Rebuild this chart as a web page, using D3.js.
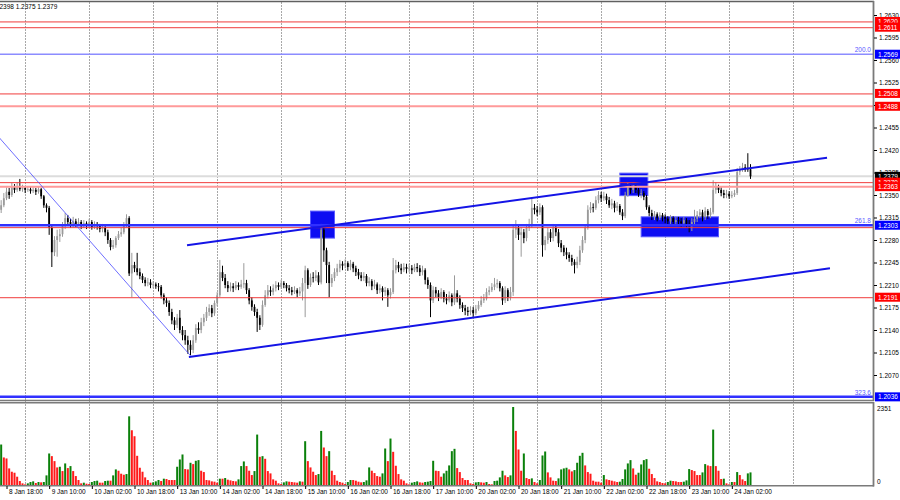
<!DOCTYPE html>
<html><head><meta charset="utf-8">
<script src="https://cdn.jsdelivr.net/npm/d3@7"></script>
<style>
body{margin:0;background:#fff}
svg{display:block}
text{font-family:"Liberation Sans",Arial,sans-serif}
</style>
</head><body>
<svg id="c" width="900" height="500"></svg>
<script>
// ---------- DATA ----------
const firstBar = -2;          // bar index of the first candle (label "8 Jan 18:00" is bar 0)
const firstOpen = 1.2327;
const closes = [
1.2334,1.2345,1.2355,1.2350,1.2362,1.2358,1.2364,1.2359,1.2361,1.2358,
1.2359,1.2356,1.2358,1.2355,1.2359,1.2348,1.2334,1.2330,1.2299,1.2261,
1.2280,1.2286,1.2289,1.2302,1.2314,1.2308,1.2303,1.2309,1.2305,1.2308,
1.2302,1.2306,1.2303,1.2308,1.2300,1.2305,1.2302,1.2297,1.2299,1.2292,
1.2280,1.2269,1.2272,1.2283,1.2289,1.2292,1.2303,1.2314,1.2228,1.2241,
1.2236,1.2230,1.2224,1.2218,1.2213,1.2214,1.2210,1.2211,1.2208,1.2207,
1.2194,1.2186,1.2182,1.2168,1.2155,1.2148,1.2159,1.2140,1.2132,1.2124,
1.2117,1.2109,1.2124,1.2143,1.2140,1.2152,1.2159,1.2168,1.2174,1.2166,
1.2182,1.2194,1.2230,1.2221,1.2210,1.2205,1.2208,1.2205,1.2210,1.2207,
1.2211,1.2213,1.2202,1.2186,1.2176,1.2168,1.2159,1.2148,1.2179,1.2194,
1.2202,1.2199,1.2205,1.2210,1.2207,1.2213,1.2210,1.2205,1.2202,1.2199,
1.2202,1.2197,1.2200,1.2213,1.2233,1.2210,1.2222,1.2221,1.2225,1.2214,
1.2296,1.2264,1.2241,1.2213,1.2221,1.2230,1.2236,1.2243,1.2240,1.2244,
1.2238,1.2243,1.2236,1.2230,1.2225,1.2221,1.2224,1.2213,1.2216,1.2208,
1.2211,1.2202,1.2205,1.2199,1.2202,1.2194,1.2199,1.2233,1.2241,1.2236,
1.2233,1.2238,1.2235,1.2236,1.2233,1.2238,1.2236,1.2230,1.2233,1.2218,
1.2210,1.2186,1.2202,1.2197,1.2191,1.2199,1.2189,1.2186,1.2194,1.2183,
1.2197,1.2189,1.2179,1.2174,1.2170,1.2168,1.2171,1.2166,1.2173,1.2179,
1.2186,1.2189,1.2199,1.2202,1.2207,1.2211,1.2213,1.2205,1.2186,1.2202,
1.2191,1.2199,1.2296,1.2299,1.2288,1.2292,1.2283,1.2299,1.2303,1.2330,
1.2327,1.2323,1.2331,1.2272,1.2280,1.2292,1.2283,1.2299,1.2292,1.2275,
1.2268,1.2261,1.2257,1.2252,1.2246,1.2241,1.2246,1.2264,1.2280,1.2299,
1.2327,1.2331,1.2330,1.2342,1.2350,1.2345,1.2348,1.2342,1.2334,1.2337,
1.2330,1.2333,1.2323,1.2317,1.2350,1.2362,1.2358,1.2364,1.2358,1.2352,
1.2353,1.2347,1.2331,1.2322,1.2317,1.2320,1.2314,1.2319,1.2316,1.2313,
1.2309,1.2314,1.2308,1.2311,1.2309,1.2306,1.2311,1.2305,1.2302,1.2308,
1.2313,1.2319,1.2323,1.2316,1.2325,1.2319,1.2323,1.2358,1.2364,1.2358,
1.2353,1.2350,1.2352,1.2348,1.2350,1.2353,1.2386,1.2389,1.2393,1.2392,
1.2390,1.2379];
const highs = [
1.2342,1.2353,1.2362,1.2361,1.2369,1.2367,1.2370,1.2375,1.2366,1.2364,
1.2364,1.2362,1.2362,1.2361,1.2364,1.2361,1.2350,1.2337,1.2333,1.2302,
1.2286,1.2296,1.2297,1.2308,1.2322,1.2319,1.2313,1.2316,1.2313,1.2314,
1.2311,1.2311,1.2309,1.2313,1.2311,1.2309,1.2308,1.2305,1.2305,1.2302,
1.2296,1.2283,1.2280,1.2286,1.2294,1.2299,1.2308,1.2320,1.2317,1.2260,
1.2246,1.2260,1.2236,1.2228,1.2222,1.2221,1.2219,1.2216,1.2214,1.2213,
1.2210,1.2197,1.2191,1.2186,1.2173,1.2160,1.2165,1.2171,1.2146,1.2140,
1.2131,1.2124,1.2132,1.2149,1.2152,1.2159,1.2165,1.2176,1.2180,1.2179,
1.2186,1.2199,1.2249,1.2240,1.2227,1.2216,1.2214,1.2213,1.2216,1.2214,
1.2218,1.2244,1.2218,1.2205,1.2191,1.2180,1.2173,1.2163,1.2186,1.2202,
1.2210,1.2208,1.2211,1.2216,1.2214,1.2218,1.2216,1.2213,1.2210,1.2207,
1.2208,1.2205,1.2207,1.2221,1.2240,1.2236,1.2228,1.2230,1.2233,1.2230,
1.2305,1.2299,1.2268,1.2246,1.2227,1.2236,1.2243,1.2249,1.2247,1.2250,
1.2247,1.2249,1.2246,1.2240,1.2235,1.2230,1.2230,1.2227,1.2222,1.2219,
1.2218,1.2214,1.2211,1.2208,1.2207,1.2205,1.2205,1.2252,1.2249,1.2246,
1.2243,1.2244,1.2243,1.2243,1.2241,1.2243,1.2244,1.2241,1.2240,1.2236,
1.2222,1.2214,1.2208,1.2207,1.2202,1.2205,1.2202,1.2196,1.2200,1.2197,
1.2225,1.2202,1.2194,1.2183,1.2179,1.2176,1.2177,1.2176,1.2179,1.2185,
1.2193,1.2196,1.2205,1.2208,1.2213,1.2221,1.2219,1.2216,1.2208,1.2208,
1.2205,1.2207,1.2302,1.2311,1.2303,1.2300,1.2297,1.2305,1.2313,1.2345,
1.2336,1.2333,1.2337,1.2334,1.2286,1.2299,1.2297,1.2305,1.2303,1.2297,
1.2280,1.2272,1.2268,1.2261,1.2257,1.2250,1.2254,1.2271,1.2286,1.2303,
1.2334,1.2339,1.2337,1.2348,1.2356,1.2355,1.2355,1.2352,1.2347,1.2344,
1.2341,1.2339,1.2336,1.2328,1.2355,1.2369,1.2366,1.2369,1.2366,1.2361,
1.2359,1.2356,1.2350,1.2334,1.2327,1.2325,1.2323,1.2323,1.2322,1.2320,
1.2317,1.2319,1.2317,1.2316,1.2316,1.2314,1.2316,1.2314,1.2311,1.2314,
1.2327,1.2325,1.2328,1.2327,1.2331,1.2328,1.2330,1.2373,1.2370,1.2366,
1.2362,1.2358,1.2358,1.2356,1.2356,1.2358,1.2392,1.2395,1.2400,1.2398,
1.2415,1.2398];
const lows = [
1.2322,1.2331,1.2342,1.2344,1.2347,1.2353,1.2355,1.2356,1.2355,1.2353,
1.2355,1.2352,1.2353,1.2350,1.2352,1.2344,1.2330,1.2323,1.2288,1.2238,
1.2255,1.2254,1.2277,1.2285,1.2297,1.2302,1.2299,1.2300,1.2300,1.2302,
1.2297,1.2299,1.2297,1.2300,1.2296,1.2297,1.2296,1.2292,1.2292,1.2286,
1.2274,1.2264,1.2266,1.2268,1.2280,1.2285,1.2289,1.2300,1.2224,1.2191,
1.2230,1.2225,1.2219,1.2213,1.2208,1.2208,1.2205,1.2205,1.2204,1.2200,
1.2189,1.2180,1.2176,1.2162,1.2149,1.2140,1.2143,1.2135,1.2124,1.2117,
1.2103,1.2101,1.2104,1.2120,1.2134,1.2135,1.2146,1.2154,1.2162,1.2160,
1.2162,1.2177,1.2191,1.2216,1.2205,1.2199,1.2200,1.2199,1.2202,1.2202,
1.2204,1.2205,1.2196,1.2180,1.2170,1.2162,1.2137,1.2140,1.2145,1.2176,
1.2189,1.2193,1.2194,1.2200,1.2202,1.2204,1.2205,1.2200,1.2197,1.2194,
1.2196,1.2191,1.2193,1.2186,1.2160,1.2204,1.2207,1.2214,1.2216,1.2210,
1.2211,1.2246,1.2213,1.2191,1.2207,1.2216,1.2224,1.2230,1.2233,1.2236,
1.2232,1.2233,1.2230,1.2224,1.2219,1.2216,1.2216,1.2208,1.2208,1.2202,
1.2204,1.2196,1.2197,1.2186,1.2193,1.2176,1.2189,1.2196,1.2228,1.2230,
1.2227,1.2230,1.2228,1.2230,1.2227,1.2230,1.2230,1.2224,1.2225,1.2211,
1.2204,1.2160,1.2182,1.2191,1.2185,1.2188,1.2183,1.2180,1.2183,1.2177,
1.2179,1.2183,1.2173,1.2168,1.2163,1.2162,1.2163,1.2160,1.2163,1.2170,
1.2176,1.2182,1.2186,1.2194,1.2199,1.2202,1.2205,1.2200,1.2179,1.2182,
1.2185,1.2186,1.2193,1.2283,1.2280,1.2254,1.2275,1.2278,1.2294,1.2299,
1.2320,1.2317,1.2319,1.2254,1.2264,1.2274,1.2277,1.2278,1.2286,1.2269,
1.2261,1.2255,1.2250,1.2246,1.2240,1.2228,1.2236,1.2241,1.2260,1.2275,
1.2296,1.2322,1.2323,1.2327,1.2337,1.2339,1.2341,1.2336,1.2330,1.2328,
1.2323,1.2325,1.2319,1.2311,1.2314,1.2347,1.2352,1.2353,1.2353,1.2347,
1.2345,1.2342,1.2327,1.2317,1.2311,1.2311,1.2309,1.2311,1.2309,1.2306,
1.2303,1.2305,1.2302,1.2303,1.2303,1.2300,1.2302,1.2299,1.2292,1.2294,
1.2303,1.2308,1.2314,1.2309,1.2311,1.2313,1.2314,1.2320,1.2352,1.2353,
1.2348,1.2345,1.2345,1.2344,1.2345,1.2347,1.2350,1.2381,1.2386,1.2386,
1.2386,1.2375];
const volumes = [
1220,830,800,500,400,370,250,120,50,20,
50,90,110,60,90,80,90,290,950,870,
720,530,550,420,650,510,570,420,270,150,
50,70,40,30,90,120,130,70,70,120,
130,130,290,470,430,340,310,330,2070,1650,
1470,880,520,400,230,150,70,80,110,150,
120,190,180,150,150,150,550,770,920,480,
470,670,630,730,750,430,390,150,140,110,
100,70,190,190,210,160,140,120,110,170,
570,710,570,430,300,420,1520,850,870,790,
420,350,170,130,50,30,80,110,100,90,
80,70,110,100,1320,720,530,400,300,330,
1630,1130,870,1020,430,300,130,90,70,30,
90,150,150,130,100,80,90,140,530,430,
360,270,250,350,1100,720,1400,1000,580,330,
170,130,50,20,70,90,110,80,70,90,
100,
120,730,430,420,250,350,430,590,1020,1090,
510,390,210,150,150,50,30,80,90,80,
70,90,30,20,120,130,230,430,290,240,
290,2351,1630,1070,430,950,210,180,200,90,
50,150,890,1010,380,230,130,120,200,470,
500,520,470,410,450,670,880,970,590,390,
340,130,100,100,70,300,170,150,130,110,
90,100,180,470,650,750,500,310,370,620,
750,780,490,330,210,110,90,60,50,90,
130,120,110,90,90,100,140,480,450,420,
300,300,380,630,590,570,1670,570,430,180,
190,50,20,90,90,390,300,170,120,350,
380];
const volumeMax = 2351;

const timeLabels = ["8 Jan 18:00","9 Jan 10:00","10 Jan 02:00","10 Jan 18:00","13 Jan 10:00",
  "14 Jan 02:00","14 Jan 18:00","15 Jan 10:00","16 Jan 02:00","16 Jan 18:00","17 Jan 10:00",
  "20 Jan 02:00","20 Jan 18:00","21 Jan 10:00","22 Jan 02:00","22 Jan 18:00","23 Jan 10:00","24 Jan 02:00"];
const labelBars = [0,16,32,48,64,80,96,112,128,144,160,176,192,208,224,240,256,272];
const gridBars = [7,31,55,79,103,127,151,175,199,223,247,271,295];
const priceTicks = [1.2630,1.2595,1.2560,1.2525,1.2490,1.2455,1.2420,1.2385,1.2350,1.2315,
  1.2280,1.2245,1.2210,1.2175,1.2140,1.2105,1.2070];

const redLevels = [1.2620,1.2611,1.2508,1.2370,1.2300,1.2191];
const pinkLevels = [1.2488,1.2363];
const fibLevels = [1.2569,1.2303,1.2036];
const fibTexts = ["200.0","261.8","323.6"];
const bidPrice = 1.2379;
const headerText = "1.2398 1.2375 1.2379";

const boxStart = [114,230,238];
const boxEnd = [123,240.5,267];
const boxTop = [1.2325,1.2384,1.2316];
const boxBottom = [1.2283,1.2349,1.2285];

const channelStart = [67.7,68.4];
const channelStartPrice = [1.2272,1.2098];
const channelEnd = [307.7,308.8];
const channelEndPrice = [1.2408,1.2236];
const fanStart = [-5, 1.2450];
const fanEnd = [69, 1.2100];

// ---------- LAYOUT ----------
const svg = d3.select('#c');
const paneRight = 873;
const x = d3.scaleLinear().domain([0,24]).range([6.5,70.5]);
const y = d3.scaleLinear().domain([1.2630,1.2070]).range([15,375]);
const yv = d3.scaleLinear().domain([0,volumeMax]).range([485,407]);

const defs = svg.append('defs');
defs.append('clipPath').attr('id','mainClip').append('rect').attr('x',0).attr('y',2).attr('width',paneRight).attr('height',398);
defs.append('clipPath').attr('id','volClip').append('rect').attr('x',0).attr('y',403).attr('width',paneRight).attr('height',82);

// grid (both panes)
svg.append('g').selectAll('line').data(gridBars).join('line')
  .attr('x1',d=>Math.round(x(d))+0.5).attr('x2',d=>Math.round(x(d))+0.5)
  .attr('y1',2).attr('y2',485)
  .attr('stroke','#a8a8a8').attr('stroke-width',1).attr('stroke-dasharray','2,1');

const main = svg.append('g').attr('clip-path','url(#mainClip)');

// rectangles (background)
main.append('g').selectAll('rect').data(boxStart).join('rect')
  .attr('x',(d,i)=>x(d)).attr('width',(d,i)=>x(boxEnd[i])-x(d))
  .attr('y',(d,i)=>y(boxTop[i])).attr('height',(d,i)=>y(boxBottom[i])-y(boxTop[i]))
  .attr('fill','#0d0df2').attr('stroke','#5a5aff').attr('stroke-width',1);

// bid line
main.append('line').attr('x1',0).attr('x2',paneRight).attr('y1',y(bidPrice)).attr('y2',y(bidPrice))
  .attr('stroke','#dcdcdc').attr('stroke-width',2);

// candles
const bars = closes.map((c,k)=>({i:firstBar+k, o:k?closes[k-1]:firstOpen, c, h:highs[k], l:lows[k]}));
const cg = main.append('g');
bars.forEach(b=>{
  const col = b.c>=b.o ? '#9a9a9a' : '#000000';
  const cx = x(b.i);
  const top = Math.max(b.h, b.o, b.c), bot = Math.min(b.l, b.o, b.c);
  cg.append('line').attr('x1',cx).attr('x2',cx).attr('y1',y(top)).attr('y2',y(bot))
    .attr('stroke',col).attr('stroke-width',1);
  const yt = y(Math.max(b.o,b.c)), yb = y(Math.min(b.o,b.c));
  cg.append('rect').attr('x',cx-0.9).attr('width',1.8).attr('y',yt).attr('height',Math.max(0.8,yb-yt))
    .attr('fill',col);
});

// horizontal levels
main.append('g').selectAll('line').data(pinkLevels).join('line')
  .attr('x1',0).attr('x2',paneRight).attr('y1',d=>y(d)).attr('y2',d=>y(d))
  .attr('stroke','#ff9a9a').attr('stroke-width',2);
main.append('g').selectAll('line').data(fibLevels).join('line')
  .attr('x1',0).attr('x2',paneRight).attr('y1',d=>y(d)).attr('y2',d=>y(d))
  .attr('stroke',(d,i)=>i===0?'#8c8cff':'#3030ff').attr('stroke-width',(d,i)=>i===0?1.5:2.5);
main.append('g').selectAll('line').data(redLevels).join('line')
  .attr('x1',0).attr('x2',paneRight).attr('y1',d=>y(d)+0.5).attr('y2',d=>y(d)+0.5)
  .attr('stroke','#f03c3c').attr('stroke-width',1);

// fib labels
main.append('g').selectAll('text').data(fibLevels).join('text')
  .attr('x',871).attr('y',d=>y(d)-2).attr('text-anchor','end')
  .attr('font-size','6.5px').attr('fill','#5a5aff').text((d,i)=>fibTexts[i]);

// trend lines
main.append('line').attr('x1',x(fanStart[0])).attr('y1',y(fanStart[1]))
  .attr('x2',x(fanEnd[0])).attr('y2',y(fanEnd[1])).attr('stroke','#4a4aff').attr('stroke-width',0.8);
main.append('g').selectAll('line').data(channelStart).join('line')
  .attr('x1',d=>x(d)).attr('y1',(d,i)=>y(channelStartPrice[i]))
  .attr('x2',(d,i)=>x(channelEnd[i])).attr('y2',(d,i)=>y(channelEndPrice[i]))
  .attr('stroke','#1414e6').attr('stroke-width',2);

// volumes
const vg = svg.append('g').attr('clip-path','url(#volClip)');
vg.selectAll('rect').data(volumes).join('rect')
  .attr('x',(d,k)=>x(firstBar+k)-1).attr('width',2)
  .attr('y',d=>yv(d)).attr('height',d=>yv(0)-yv(d))
  .attr('fill',(d,k)=> (k>0 && d>volumes[k-1]) || k===0 ? '#0a800a' : '#ff1a1a');

// header text
svg.append('text').attr('x',-6).attr('y',9).attr('font-size','6.5px').attr('fill','#000').text(headerText);

// pane frames
const frame = svg.append('g').attr('stroke','#7a7a7a').attr('fill','none');
frame.append('line').attr('x1',0).attr('x2',paneRight+1).attr('y1',1.5).attr('y2',1.5).attr('stroke','#606060').attr('stroke-width',1.5);
frame.append('line').attr('x1',0).attr('x2',paneRight+1).attr('y1',400.5).attr('y2',400.5).attr('stroke-width',1.5);
frame.append('line').attr('x1',0).attr('x2',paneRight+1).attr('y1',402.8).attr('y2',402.8).attr('stroke-width',1.5);
frame.append('line').attr('x1',0).attr('x2',paneRight+1).attr('y1',485.8).attr('y2',485.8).attr('stroke-width',1.5);
frame.append('line').attr('x1',paneRight+0.5).attr('x2',paneRight+0.5).attr('y1',1).attr('y2',401).attr('stroke-width',1.8);
frame.append('line').attr('x1',paneRight+0.5).attr('x2',paneRight+0.5).attr('y1',402).attr('y2',486.5).attr('stroke-width',1.8);

// price axis
const yAxis = d3.axisRight(y).tickValues(priceTicks).tickSize(3).tickPadding(2).tickFormat(d3.format('.4f'));
const ya = svg.append('g').attr('transform',`translate(${paneRight+1},0)`).call(yAxis);
ya.select('.domain').remove();
ya.selectAll('text').attr('font-size','6.5px').attr('fill','#000').attr('font-family','"Liberation Sans",Arial,sans-serif');
ya.selectAll('line').attr('stroke','#000');

// time axis
const xAxis = d3.axisBottom(x).tickValues(labelBars).tickSize(3).tickFormat((d,i)=>timeLabels[i]);
const xa = svg.append('g').attr('transform','translate(0,486)').call(xAxis);
xa.select('.domain').remove();
xa.selectAll('text').attr('text-anchor','start').attr('x',2).attr('y',3).attr('dy','0.71em')
  .attr('font-size','6.5px').attr('fill','#000').attr('font-family','"Liberation Sans",Arial,sans-serif');
xa.selectAll('line').attr('stroke','#000');

// volume scale labels
const vScaleVals = [volumeMax, 0];
svg.append('g').selectAll('text').data(vScaleVals).join('text')
  .attr('x',paneRight+4).attr('y',d=>d?yv(d)+4:yv(d)-1)
  .attr('font-size','6.5px').attr('fill','#000').text(d=>d);

// price labels on the axis
function priceTag(p, fill, txtColor){
  const g = svg.append('g');
  g.append('rect').attr('x',paneRight+2).attr('y',y(p)-4.5).attr('width',27).attr('height',9).attr('fill',fill);
  g.append('text').attr('x',paneRight+5).attr('y',y(p)+2.4).attr('font-size','6.5px').attr('fill',txtColor)
    .text(d3.format('.4f')(p));
}
priceTag(bidPrice,'#000000','#ffffff');
redLevels.filter(p=>p!==1.2300).concat(pinkLevels).sort((a,b)=>b-a).forEach(p=>priceTag(p,'#ff0000','#ffffff'));
fibLevels.forEach(p=>priceTag(p,'#0000ff','#ffffff'));
</script>
</body></html>
